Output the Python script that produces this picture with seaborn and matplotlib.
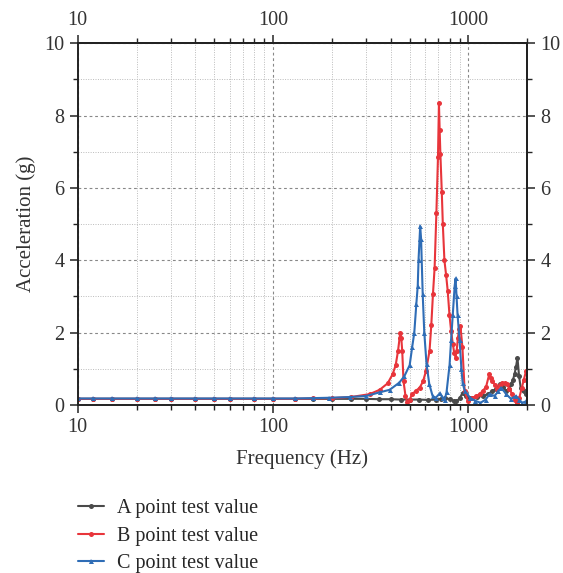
import numpy as np
import pandas as pd
import matplotlib
matplotlib.use("Agg")
import matplotlib.pyplot as plt
import seaborn as sns
from matplotlib.ticker import LogLocator, NullFormatter, MultipleLocator, FixedLocator

# ---- data ----
freq_a = [10, 12, 15, 20, 25, 30, 40, 50, 60, 80, 100, 130, 160, 200, 250, 300, 350, 400,
          450, 500, 560, 620, 680, 720, 755, 800, 840, 868, 900, 934, 970, 1019, 1100,
          1183, 1260, 1327, 1390, 1450, 1500, 1560, 1610, 1650, 1690, 1720, 1750, 1781,
          1815, 1850, 1890, 1920, 1970]
val_a = [0.17, 0.17, 0.17, 0.17, 0.17, 0.17, 0.17, 0.17, 0.17, 0.17, 0.17, 0.17, 0.17, 0.17,
         0.17, 0.17, 0.16, 0.16, 0.15, 0.15, 0.15, 0.14, 0.15, 0.17, 0.2, 0.16, 0.12, 0.1,
         0.18, 0.34, 0.25, 0.2, 0.22, 0.25, 0.3, 0.39, 0.45, 0.58, 0.5, 0.39, 0.45, 0.58,
         0.7, 0.85, 1.05, 1.31, 0.8, 0.48, 0.42, 0.39, 0.3]

freq_b = [10, 12, 15, 20, 25, 30, 40, 50, 60, 80, 100, 130, 160, 200, 250, 312, 351, 386,
          409, 424, 436, 444, 448, 453, 458, 465, 476, 487, 500, 515, 540, 563, 585, 606,
          632, 645, 658, 671, 685, 698, 706, 712, 718, 730, 739, 753, 768, 783, 799, 815,
          831, 845, 859, 870, 883, 896, 909, 931, 956, 993, 1040, 1095, 1140, 1183, 1230,
          1277, 1300, 1327, 1370, 1406, 1450, 1490, 1530, 1578, 1620, 1671, 1720, 1770,
          1820, 1875, 1920, 1972]
val_b = [0.17, 0.17, 0.17, 0.17, 0.17, 0.17, 0.17, 0.17, 0.17, 0.17, 0.17, 0.17, 0.18, 0.19,
         0.22, 0.3, 0.42, 0.6, 0.85, 1.1, 1.5, 1.85, 2.0, 1.85, 1.5, 0.66, 0.25, 0.07, 0.15,
         0.3, 0.4, 0.48, 0.65, 0.94, 1.5, 2.2, 3.07, 3.8, 5.3, 6.85, 8.35, 7.6, 6.95, 5.9,
         5.0, 4.0, 3.6, 3.15, 2.5, 2.05, 1.69, 1.45, 1.31, 1.5, 1.86, 2.1, 2.19, 1.6, 0.39,
         0.1, 0.18, 0.25, 0.3, 0.39, 0.5, 0.85, 0.75, 0.66, 0.55, 0.44, 0.55, 0.62, 0.6,
         0.58, 0.45, 0.3, 0.15, 0.05, 0.2, 0.48, 0.7, 0.95]

freq_c = [10, 12, 15, 20, 25, 30, 40, 50, 60, 80, 100, 130, 160, 194, 247, 300, 351, 395,
          443, 470, 500, 515, 528, 541, 550, 555, 562, 566, 572, 583, 594, 610, 630, 655,
          680, 713, 738, 755, 772, 800, 815, 831, 850, 859, 869, 879, 900, 920, 934, 956,
          1019, 1080, 1152, 1224, 1281, 1360, 1420, 1470, 1560, 1650, 1750, 1820, 1880,
          1970]
val_c = [0.18, 0.18, 0.18, 0.18, 0.18, 0.18, 0.18, 0.18, 0.18, 0.18, 0.18, 0.18, 0.19, 0.2,
         0.22, 0.25, 0.35, 0.42, 0.62, 0.8, 1.1, 1.6, 2.0, 2.8, 3.3, 4.0, 4.6, 4.94, 4.6,
         3.07, 2.0, 1.13, 0.58, 0.25, 0.2, 0.32, 0.2, 0.15, 0.35, 1.1, 1.8, 2.5, 3.3, 3.5,
         3.0, 2.5, 1.8, 1.0, 0.6, 0.4, 0.2, 0.12, 0.06, 0.15, 0.3, 0.25, 0.38, 0.48, 0.3,
         0.17, 0.25, 0.15, 0.06, 0.1]

labels = ["A point test value", "B point test value", "C point test value"]
colors = ["#4a4a4a", "#e8353b", "#2f6db6"]
markers = ["o", "o", "^"]

xticks = [10, 100, 1000]
yticks = [0, 2, 4, 6, 8, 10]

# ---- plot ----
sns.set_style("ticks")
plt.rcParams["font.family"] = ["Liberation Serif", "DejaVu Serif"]
plt.rcParams["font.size"] = 14

fig = plt.figure(figsize=(5.63, 5.73), dpi=100)
ax = fig.add_axes([0.138, 0.2932, 0.7986, 0.6312])

series = [(freq_a, val_a), (freq_b, val_b), (freq_c, val_c)]
for (f, v), lab, col, mk in zip(series, labels, colors, markers):
    df = pd.DataFrame({"Frequency": f, "Acceleration": v})
    sns.lineplot(data=df, x="Frequency", y="Acceleration", ax=ax, color=col,
                 marker=mk, markersize=3.6, markeredgewidth=0, linewidth=1.5,
                 label=lab, legend=False, estimator=None, sort=False)

ax.set_xscale("log")
ax.set_xlim(10, 2000)
ax.set_ylim(0, 10)
ax.xaxis.set_major_locator(FixedLocator(xticks))
ax.xaxis.set_minor_locator(LogLocator(base=10, subs=np.arange(2, 10)))
ax.xaxis.set_minor_formatter(NullFormatter())
ax.set_xticks(xticks)
ax.set_xticklabels([str(t) for t in xticks])
ax.set_yticks(yticks)
ax.yaxis.set_minor_locator(MultipleLocator(1))

ax.grid(which="major", color="#888888", linestyle=(0, (2.5, 2.5)), linewidth=0.8)
ax.grid(which="minor", color="#bbbbbb", linestyle=(0, (1, 1.5)), linewidth=0.7)
ax.set_axisbelow(True)

for s in ax.spines.values():
    s.set_linewidth(1.4)
    s.set_color("#222222")

tick_fs = 14.5
ax.tick_params(which="major", direction="out", length=6, width=1.1, colors="#222222",
               labelsize=tick_fs, labelcolor="#333333")
ax.tick_params(which="minor", direction="out", length=3.5, width=1.0, colors="#222222")

top = ax.secondary_xaxis("top")
top.set_xticks(xticks)
top.set_xticklabels([str(t) for t in xticks])
top.xaxis.set_minor_locator(LogLocator(base=10, subs=np.arange(2, 10)))
top.xaxis.set_minor_formatter(NullFormatter())
top.tick_params(which="major", direction="out", length=6, width=1.1, labelsize=tick_fs,
                labelcolor="#333333")
top.tick_params(which="minor", direction="out", length=3.5, width=1.0)
top.spines["top"].set_linewidth(1.4)

right = ax.secondary_yaxis("right")
right.set_yticks(yticks)
right.yaxis.set_minor_locator(MultipleLocator(1))
right.tick_params(which="major", direction="out", length=6, width=1.1, labelsize=tick_fs,
                  labelcolor="#333333")
right.tick_params(which="minor", direction="out", length=3.5, width=1.0)
right.spines["right"].set_linewidth(1.4)

ax.set_xlabel("Frequency (Hz)", fontsize=15, color="#333333", labelpad=9)
ax.set_ylabel("Acceleration (g)", fontsize=15, color="#333333", labelpad=6)

h, l = ax.get_legend_handles_labels()
fig.legend(h, l, loc="upper left", bbox_to_anchor=(0.1385, 0.1286), frameon=False,
           fontsize=14.5, handlelength=1.3, handletextpad=0.62, labelspacing=0.4,
           borderaxespad=0, borderpad=0)

fig.savefig("out.png", dpi=100)
